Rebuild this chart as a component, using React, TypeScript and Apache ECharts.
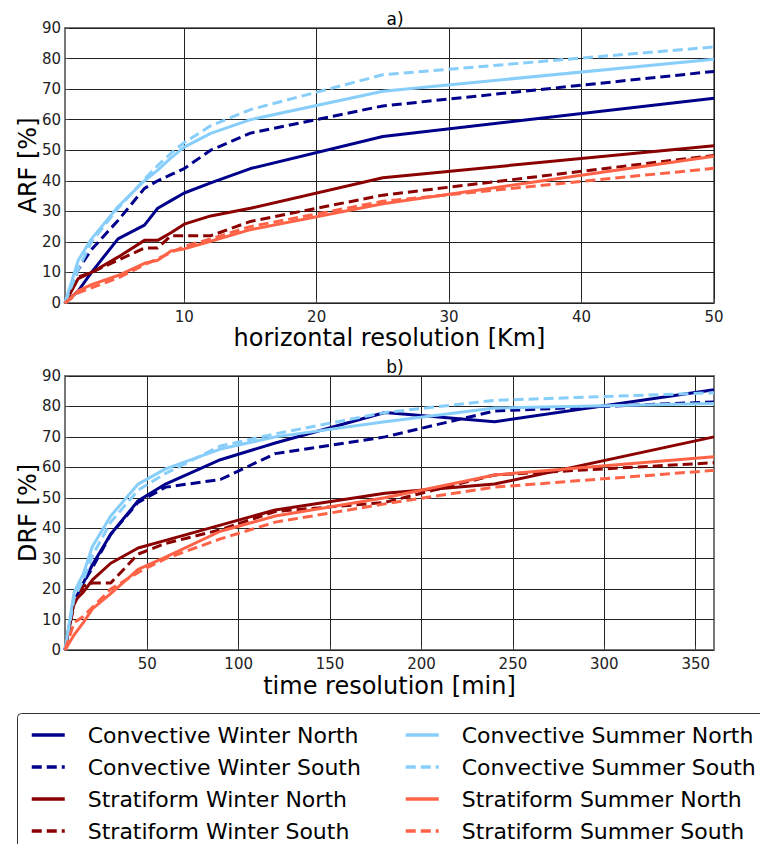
import React, { useEffect, useRef } from "react";
import * as echarts from "echarts";

// ---- a) ARF vs horizontal resolution ----
const xSpatial = [1, 2, 3, 5, 7, 8, 9, 10, 12, 15, 25, 50];
const arfCWN = [0, 4, 10, 21, 25.5, 31, 33.5, 36, 39.3, 44, 54.5, 67];
const arfCWS = [0, 11, 17.5, 27, 37.5, 40, 42, 44, 50, 55.6, 64.5, 75.8];
const arfSWN = [0, 8, 10, 15, 20.5, 20.5, 23, 25.8, 28.5, 31, 41, 51.5];
const arfSWS = [0, 8.5, 10, 14, 18, 18, 22, 22, 22, 26.7, 35.3, 48.3];
const arfCSN = [0, 14, 21, 31.5, 40, 43.5, 47.5, 51, 55.5, 60, 69.3, 79.8];
const arfCSS = [0, 11, 20, 31, 40.5, 45, 49, 52.5, 58, 63.3, 74.7, 83.8];
const arfSSN = [0, 4, 6, 9, 13, 14, 17, 17.7, 20.2, 24, 32.5, 48];
const arfSSS = [0, 3.3, 5, 8.2, 12.5, 14.5, 16.5, 18.5, 21, 25, 33.3, 44.1];

// ---- b) DRF vs time resolution ----
const xTime = [5, 10, 15, 20, 30, 45, 60, 90, 120, 180, 240, 360];
const drfCWN = [0, 16, 22, 28, 38, 49, 54.5, 62.5, 68, 78, 75, 85.5];
const drfCWS = [0, 17, 22, 27, 38, 48.5, 53.5, 56, 64.5, 70, 78.5, 81.5];
const drfSWN = [0, 16, 19, 23, 28.5, 33.5, 36, 41, 46, 51.5, 54.5, 70];
const drfSWS = [0, 15, 21, 22, 22, 31.5, 35, 39.5, 45.5, 48.5, 57.5, 61.5];
const drfCSN = [0, 19, 25, 34, 44, 54.5, 59.5, 66, 70, 75, 79.5, 81];
const drfCSS = [0, 17, 23, 31, 42, 52.5, 58, 67, 71, 78, 82, 84.5];
const drfSSN = [0, 5, 9, 13.5, 18.5, 26.5, 30.5, 39, 44, 50, 57.5, 63.5];
const drfSSS = [0, 9, 11, 14, 20, 25.5, 30, 36.5, 42, 48, 53.5, 59];

const xTicksSpatial = [10, 20, 30, 40, 50];
const xTicksTime = [50, 100, 150, 200, 250, 300, 350];

const seriesNames = [
  "Convective Winter North",
  "Convective Winter South",
  "Stratiform Winter North",
  "Stratiform Winter South",
  "Convective Summer North",
  "Convective Summer South",
  "Stratiform Summer North",
  "Stratiform Summer South",
];
const seriesColors = ["#00008B", "#00008B", "#8B0000", "#8B0000", "#87CEFA", "#87CEFA", "#FF6347", "#FF6347"];
const seriesDashed = [false, true, false, true, false, true, false, true];

const arfData = [arfCWN, arfCWS, arfSWN, arfSWS, arfCSN, arfCSS, arfSSN, arfSSS];
const drfData = [drfCWN, drfCWS, drfSWN, drfSWS, drfCSN, drfCSS, drfSSN, drfSSS];

const FONT = "DejaVu Sans";

export default function App() {
  const ref = useRef<HTMLDivElement>(null);
  useEffect(() => {
    if (!ref.current) return;
    const chart = echarts.init(ref.current, undefined, { renderer: "svg" });

    const mkX = (gridIndex: number, min: number, max: number, ticks: number[], name: string, gap: number) => ({
      type: "value",
      gridIndex,
      min,
      max,
      name,
      nameLocation: "middle",
      nameGap: gap,
      nameTextStyle: { fontFamily: FONT, fontSize: 24, color: "#000" },
      axisLine: { show: false },
      axisTick: { show: true, inside: true, length: 4, customValues: ticks, lineStyle: { color: "#444" } },
      axisLabel: { customValues: ticks, fontFamily: FONT, fontSize: 15, color: "#222", margin: 6 },
      splitLine: { show: true, lineStyle: { color: "#222", width: 1 } },
    });
    const mkY = (gridIndex: number, name: string) => ({
      type: "value",
      gridIndex,
      min: 0,
      max: 90,
      interval: 10,
      name,
      nameLocation: "middle",
      nameRotate: 90,
      nameGap: 25,
      nameMoveOverlap: false,
      nameTextStyle: { fontFamily: FONT, fontSize: 24, color: "#000" },
      axisLine: { show: false },
      axisTick: { show: true, inside: true, length: 4, lineStyle: { color: "#444" } },
      axisLabel: { fontFamily: FONT, fontSize: 15, color: "#222", margin: 4 },
      splitLine: { show: true, lineStyle: { color: "#222", width: 1 } },
    });

    const series: any[] = [];
    const build = (xs: number[], ys: number[][], idx: number) => {
      ys.forEach((vals, i) => {
        series.push({
          type: "line",
          name: seriesNames[i],
          xAxisIndex: idx,
          yAxisIndex: idx,
          data: xs.map((x, k) => [x, vals[k]]),
          symbol: "none",
          showSymbol: false,
          lineStyle: { color: seriesColors[i], width: 3, type: seriesDashed[i] ? [10, 5] : "solid" },
          itemStyle: { color: seriesColors[i] },
          z: 2 + i * 0.01,
        });
      });
    };
    build(xSpatial, arfData, 0);
    build(xTime, drfData, 1);

    const legendCommon = {
      orient: "vertical",
      top: 723,
      height: 130,
      padding: 0,
      itemWidth: 33,
      itemHeight: 14,
      itemGap: 8,
      itemStyle: { opacity: 0 },
      lineStyle: { width: 3.5 },
      textStyle: { fontFamily: FONT, fontSize: 22, color: "#000", lineHeight: 24, padding: [0, 0, 0, 18] },
    };

    chart.setOption({
      animation: false,
      backgroundColor: "#fff",
      title: [
        { text: "a)", left: 390, top: 5, textAlign: "center", textStyle: { fontFamily: FONT, fontSize: 17, fontWeight: "normal", color: "#000" } },
        { text: "b)", left: 390, top: 353, textAlign: "center", textStyle: { fontFamily: FONT, fontSize: 17, fontWeight: "normal", color: "#000" } },
      ],
      grid: [
        { left: 65, right: 46, top: 28, height: 275, show: true, borderColor: "#777", borderWidth: 2, backgroundColor: "transparent" },
        { left: 65, right: 46, top: 376, height: 274, show: true, borderColor: "#777", borderWidth: 2, backgroundColor: "transparent" },
      ],
      xAxis: [
        mkX(0, 1, 50, xTicksSpatial, "horizontal resolution [Km]", 23),
        mkX(1, 5, 360, xTicksTime, "time resolution [min]", 24),
      ],
      yAxis: [mkY(0, "ARF [%]"), mkY(1, "DRF [%]")],
      legend: [
        { ...legendCommon, left: 30, data: seriesNames.slice(0, 4) },
        { ...legendCommon, left: 404, data: seriesNames.slice(4, 8) },
      ],
      graphic: [
        {
          type: "rect",
          left: 17,
          top: 713,
          shape: { width: 780, height: 160, r: 4 },
          style: { fill: "#fff", stroke: "#333", lineWidth: 1 },
          z: -1,
        },
      ],
      series,
    });
    return () => chart.dispose();
  }, []);
  return <div ref={ref} style={{ position: "fixed", left: 0, top: 0, width: 760, height: 844 }} />;
}
